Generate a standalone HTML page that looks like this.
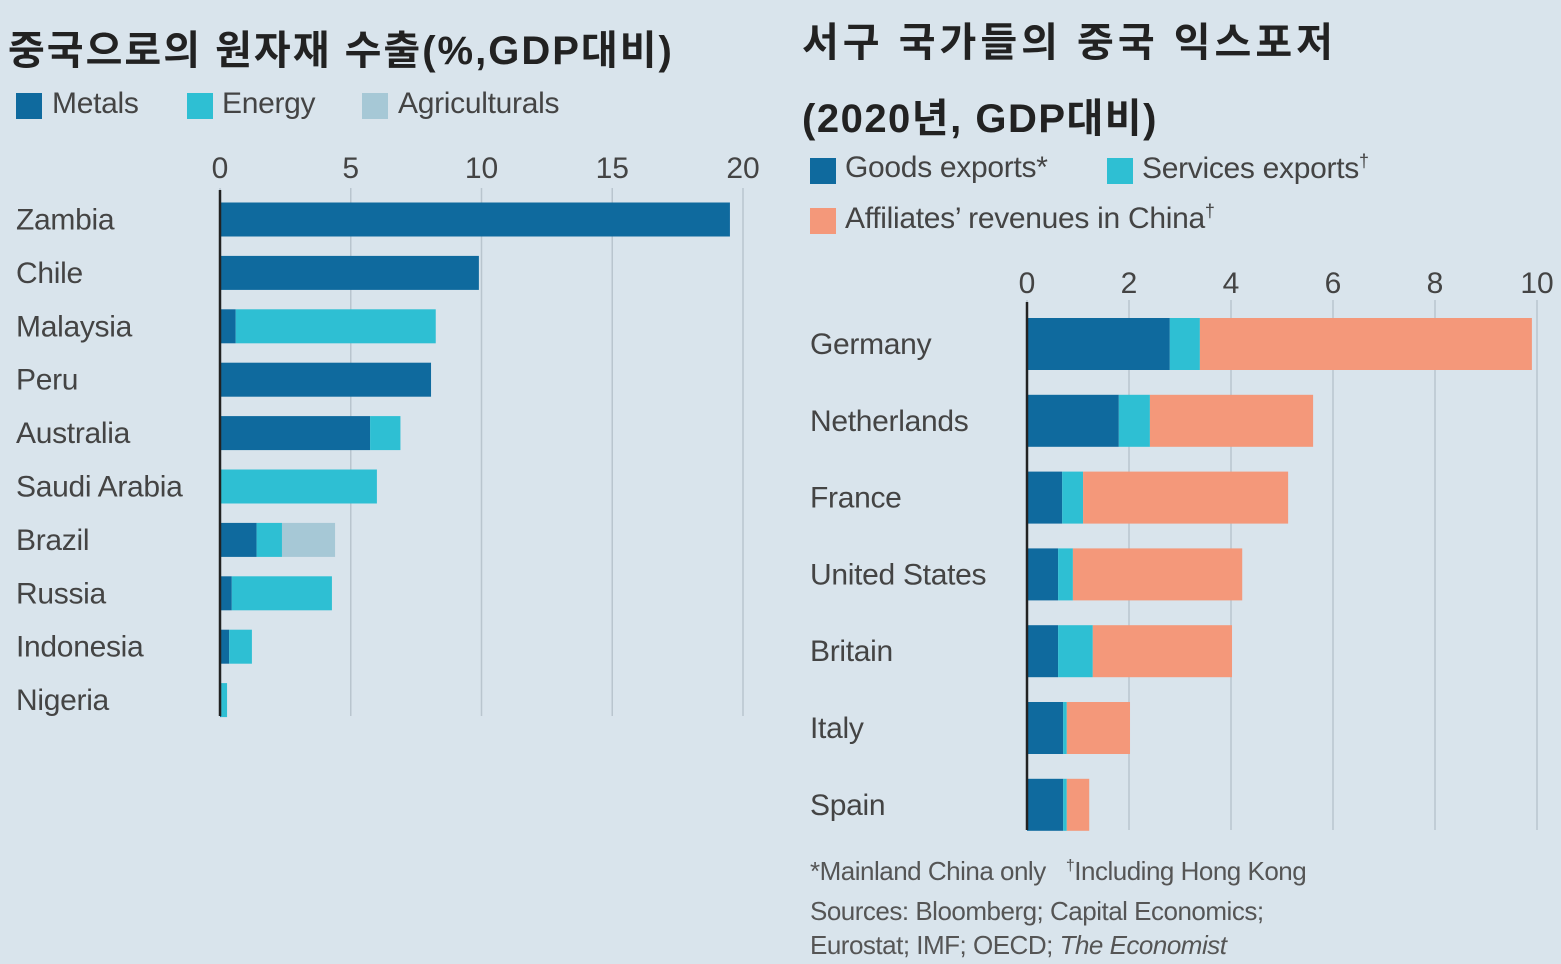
<!DOCTYPE html>
<html><head><meta charset="utf-8">
<style>
html,body{margin:0;padding:0;}
body{width:1561px;height:964px;background:#d9e4ec;position:relative;overflow:hidden;font-family:"Liberation Sans","Noto Sans CJK KR",sans-serif;color:#333;}
.t{position:absolute;white-space:nowrap;}
.title{font-weight:bold;font-size:40px;color:#222;letter-spacing:1px;}
.leg{font-size:30px;color:#444;letter-spacing:-0.3px;}
.sw{position:absolute;width:26px;height:26px;}
.note{font-size:26px;color:#555;letter-spacing:-0.5px;}
</style></head>
<body>
<div class="t title" style="left:8px;top:18px;letter-spacing:2px;">중국으로의 원자재 수출(%,GDP대비)</div>
<div class="sw" style="left:16px;top:93px;background:#0f6a9e"></div>
<div class="t leg" style="left:52px;top:87px;">Metals</div>
<div class="sw" style="left:187px;top:93px;background:#2ebfd3"></div>
<div class="t leg" style="left:222px;top:87px;">Energy</div>
<div class="sw" style="left:362px;top:93px;background:#a6c8d6"></div>
<div class="t leg" style="left:398px;top:87px;">Agriculturals</div>

<div class="t title" style="left:802px;top:10px;letter-spacing:4px;">서구 국가들의 중국 익스포저</div>
<div class="t title" style="left:802px;top:86px;letter-spacing:1.5px;">(2020년, GDP대비)</div>
<div class="sw" style="left:810px;top:158px;background:#0f6a9e"></div>
<div class="t leg" style="left:845px;top:151px;">Goods exports*</div>
<div class="sw" style="left:1107px;top:158px;background:#2ebfd3"></div>
<div class="t leg" style="left:1142px;top:151px;">Services exports<sup style="font-size:18px">†</sup></div>
<div class="sw" style="left:810px;top:208px;background:#f4987a"></div>
<div class="t leg" style="left:845px;top:201px;">Affiliates’ revenues in China<sup style="font-size:18px">†</sup></div>

<div class="t note" style="left:810px;top:856px;">*Mainland China only &nbsp;&nbsp;<sup style="font-size:16px">†</sup>Including Hong Kong</div>
<div class="t note" style="left:810px;top:896px;">Sources: Bloomberg; Capital Economics;</div>
<div class="t note" style="left:810px;top:930px;">Eurostat; IMF; OECD; <i>The Economist</i></div>

<svg id="chart" width="1561" height="964" style="position:absolute;left:0;top:0"></svg>
<script>
const leftCats=["Zambia","Chile","Malaysia","Peru","Australia","Saudi Arabia","Brazil","Russia","Indonesia","Nigeria"];
const leftMetals=[19.5,9.9,0.6,8.07,5.74,0,1.4,0.45,0.35,0.05];
const leftEnergy=[0,0,7.65,0,1.16,6.0,0.97,3.83,0.87,0.22];
const leftAgri=[0,0,0,0,0,0,2.03,0,0,0];
const leftTicks=[0,5,10,15,20];
const rightCats=["Germany","Netherlands","France","United States","Britain","Italy","Spain"];
const rightGoods=[2.8,1.8,0.69,0.61,0.61,0.71,0.71];
const rightServices=[0.59,0.61,0.41,0.29,0.68,0.07,0.07];
const rightAffiliates=[6.51,3.2,4.02,3.32,2.73,1.24,0.44];
const rightTicks=[0,2,4,6,8,10];

const svg=document.getElementById('chart');
const NS='http://www.w3.org/2000/svg';
function mk(tag,attrs){const e=document.createElementNS(NS,tag);for(const k in attrs)e.setAttribute(k,attrs[k]);svg.appendChild(e);return e;}

function drawChart(cfg){
  const x=v=>cfg.x0+v*cfg.scale;
  const y=i=>cfg.y0+i*cfg.step;
  cfg.ticks.forEach(t=>{
    const g=mk('line',{x1:x(t),x2:x(t),y1:cfg.gTop,y2:cfg.gBot,stroke:'#b9c5ce','stroke-width':1.5});
    
    
    const tx=mk('text',{x:x(t),y:cfg.tickY,'text-anchor':'middle','font-size':30,fill:'#444','font-family':'Liberation Sans, sans-serif'});
    tx.textContent=t;
    
    
  });
  cfg.cats.forEach((c,i)=>{
    let acc=0;
    cfg.series.forEach((s,si)=>{
      const v=s.vals[i];
      if(v>0){
        const r=mk('rect',{x:x(acc),y:y(i)-cfg.bh/2,width:v*cfg.scale,height:cfg.bh,fill:s.color});
        
        
      }
      acc+=v;
    });
    const l=mk('text',{x:cfg.labelX,y:y(i)+10,'font-size':30,fill:'#444','font-family':'Liberation Sans, sans-serif','letter-spacing':'-0.3'});
    l.textContent=c;
    
    
  });
  const a=mk('line',{x1:cfg.x0,x2:cfg.x0,y1:cfg.aTop,y2:cfg.gBot,stroke:'#222','stroke-width':2.5});
  
  
}
drawChart({x0:220,scale:26.15,y0:219.5,step:53.4,bh:34,gTop:188,gBot:716,aTop:190,tickY:178,labelX:16,cats:leftCats,ticks:leftTicks,
  series:[{name:'metals',vals:leftMetals,color:'#0f6a9e'},{name:'energy',vals:leftEnergy,color:'#2ebfd3'},{name:'agri',vals:leftAgri,color:'#a6c8d6'}]});
drawChart({x0:1027,scale:51,y0:344,step:76.8,bh:52,gTop:300,gBot:830,aTop:302,tickY:293,labelX:810,cats:rightCats,ticks:rightTicks,
  series:[{name:'goods',vals:rightGoods,color:'#0f6a9e'},{name:'services',vals:rightServices,color:'#2ebfd3'},{name:'affiliates',vals:rightAffiliates,color:'#f4987a'}]});
</script>
</body></html>
